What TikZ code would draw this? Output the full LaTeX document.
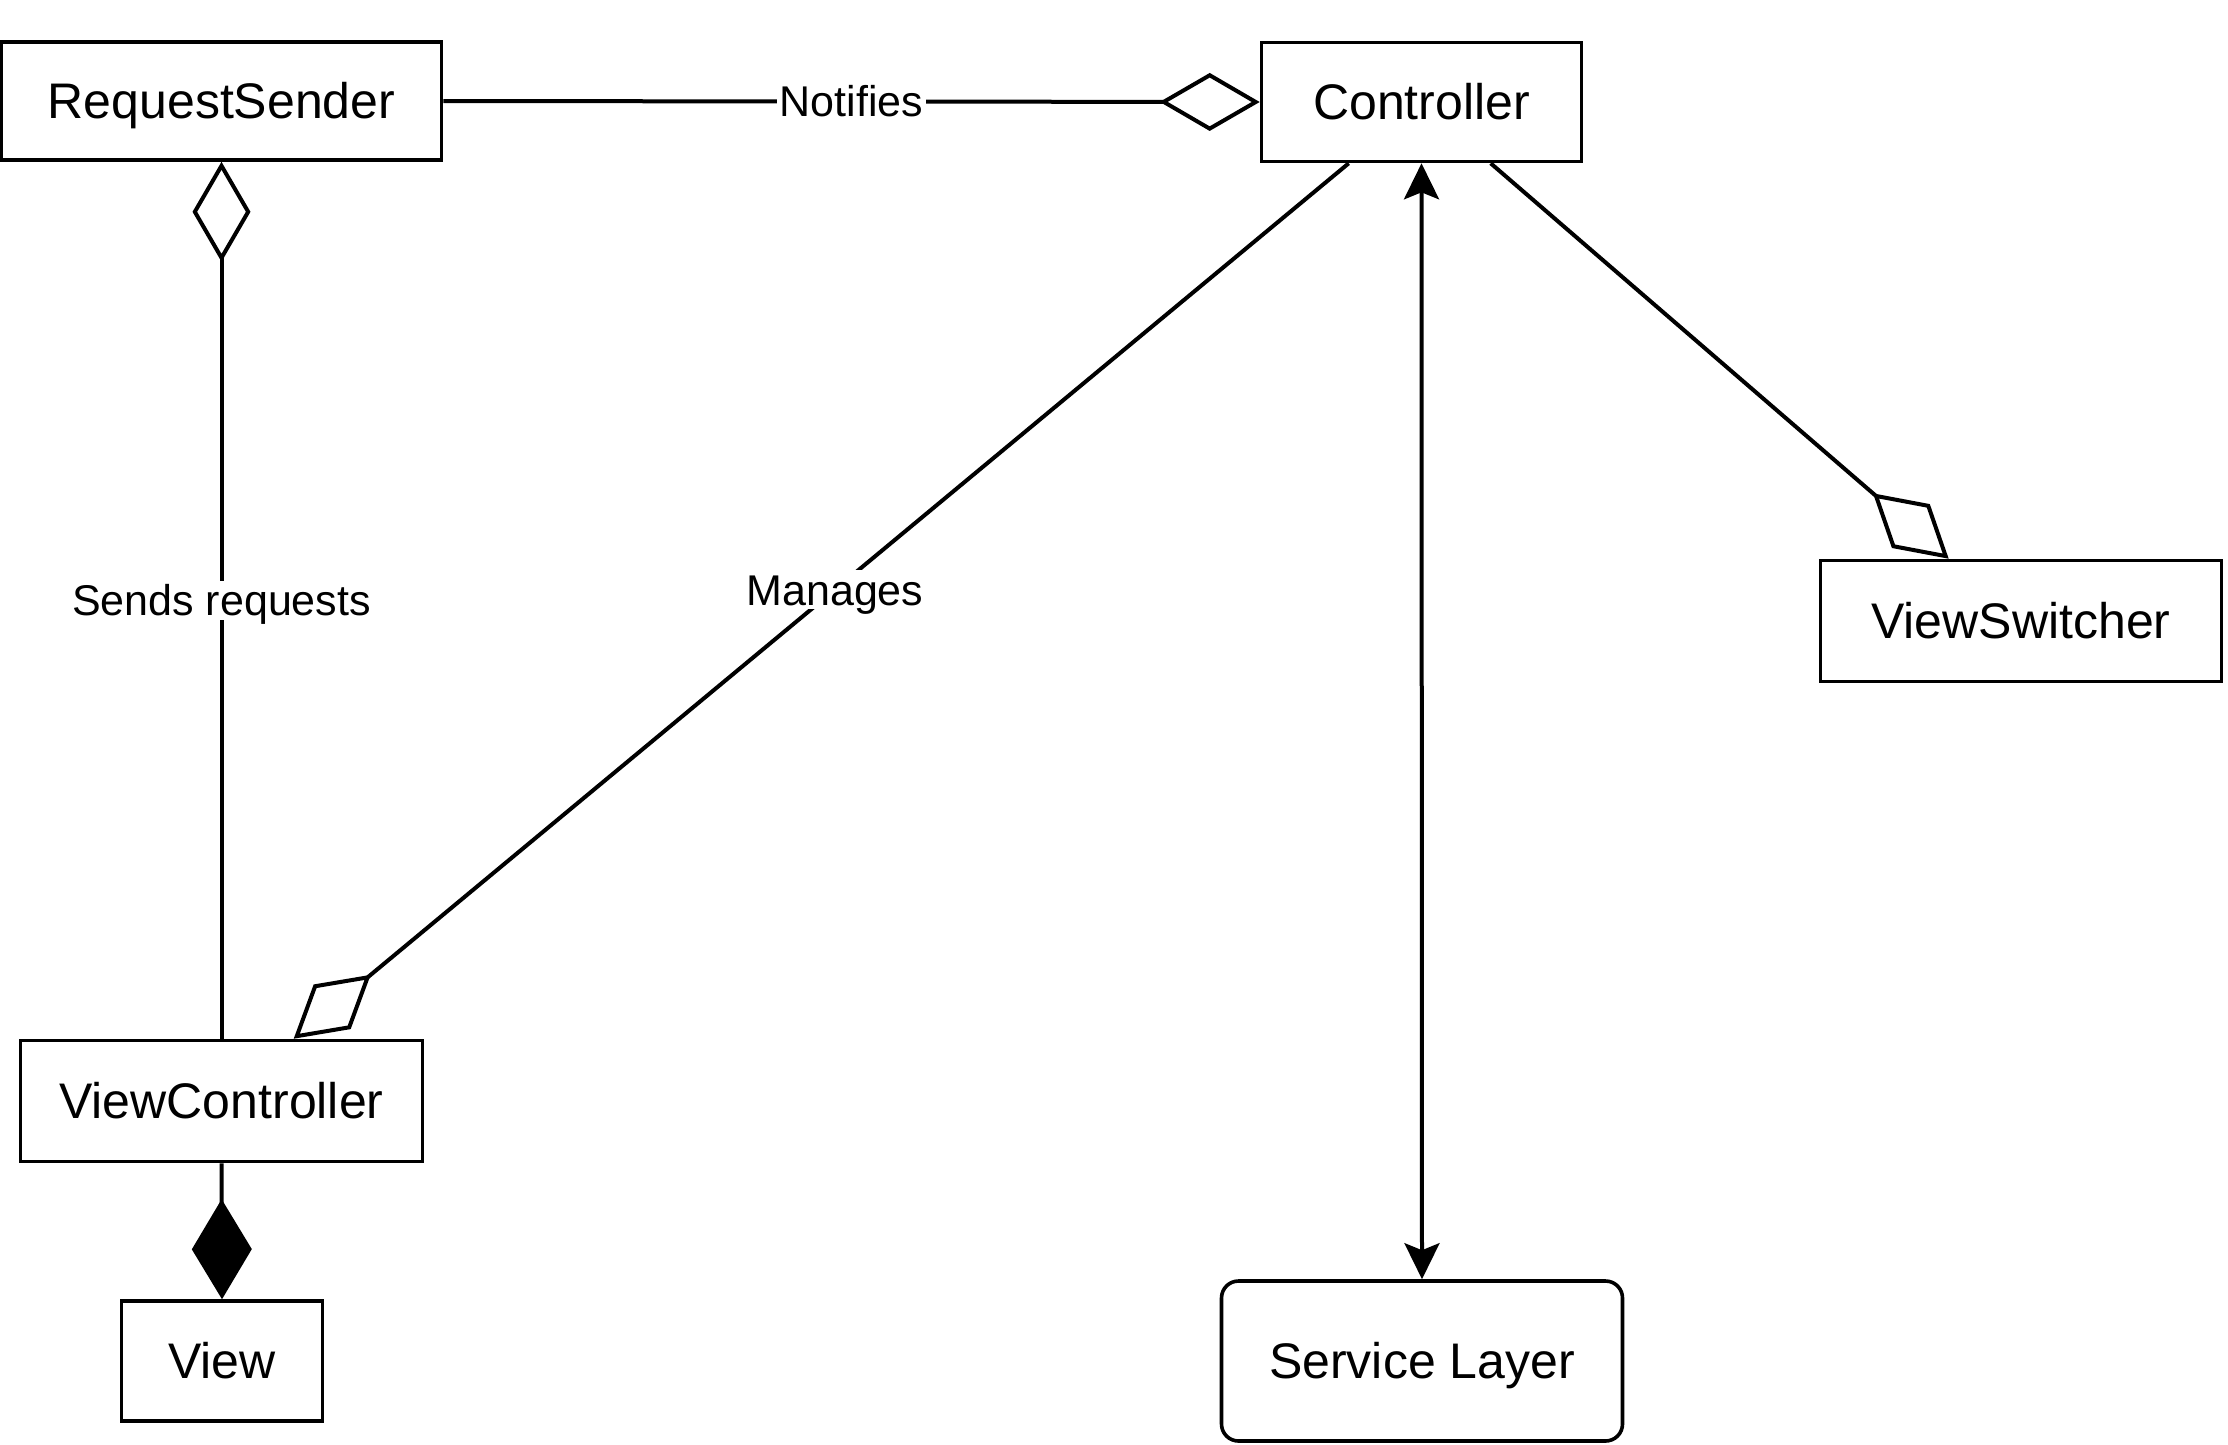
\documentclass[tikz,border=0pt]{standalone}
\usepackage{fontspec}
\setmainfont{Liberation Sans}
\usetikzlibrary{arrows.meta}
\tikzset{
  odiamond/.tip={Diamond[fill=white, length=100pt, width=58pt]},
  fdiamond/.tip={Diamond[length=100pt, width=60pt]},
  harrow/.tip={Stealth[length=36pt, width=35pt, inset=7pt]}
}
\begin{document}
\begin{tikzpicture}[x=1pt,y=-1pt,
  box/.style={draw, line width=3.6pt, inner sep=0pt, font=\fontsize{50}{58}\selectfont, text height=35.8pt, text depth=0pt},
  lbl/.style={fill=white, inner xsep=3pt, inner ysep=4pt, font=\fontsize{43}{50}\selectfont, text height=30.8pt, text depth=0pt},
  conn/.style={line width=4pt}
]
\useasboundingbox (0,0) rectangle (2228,1444);
\fill[white] (0,0) rectangle (2228,1444);

\node[box, minimum width=440pt, minimum height=118pt] (rs) at (221.5,101) {RequestSender};
\node[box, minimum width=320pt, minimum height=119pt] (ctrl) at (1421.5,102) {Controller};
\node[box, minimum width=401pt, minimum height=121pt] (vs) at (2021,621) {ViewSwitcher};
\node[box, minimum width=402pt, minimum height=121pt] (vc) at (221.5,1101) {ViewController};
\node[box, minimum width=201pt, minimum height=120pt] (view) at (222,1361) {View};
\node[box, rounded corners=17pt, minimum width=401pt, minimum height=160pt] (svc) at (1422,1361) {Service Layer};

\draw[conn, {odiamond}-] (rs.south) -- node[lbl]{Sends requests} (vc.north);
\draw[conn, -{odiamond}] (rs.east) -- node[lbl]{Notifies} (ctrl.west);
\draw[conn, -{odiamond}] ([xshift=89pt]ctrl.south west) -- node[lbl, pos=0.487]{Manages} ([xshift=275pt]vc.north west);
\draw[conn, -{odiamond}] ([xshift=231pt]ctrl.south west) -- ([xshift=130pt]vs.north west);
\draw[conn, -{fdiamond}] (vc.south) -- (view.north);
\draw[conn, {harrow}-{harrow}] (ctrl.south) -- (svc.north);
\end{tikzpicture}
\end{document}
